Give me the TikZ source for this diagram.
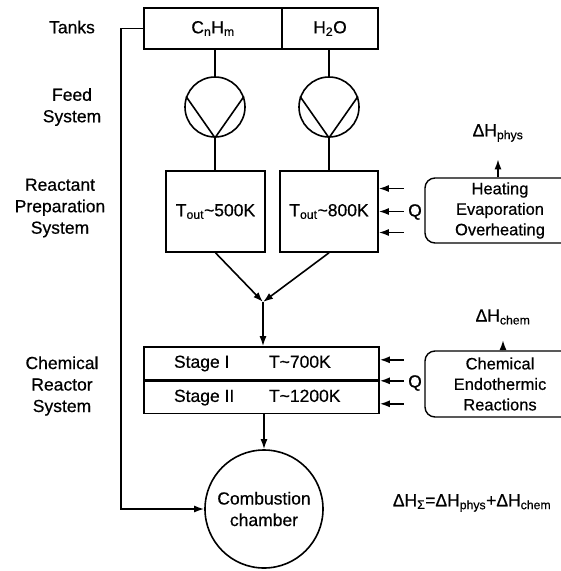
\documentclass[tikz,border=0pt]{standalone}
\usepackage{fontspec}
\setmainfont{Liberation Sans}[FakeBold=0.5]
\usetikzlibrary{arrows.meta,calc}
\newcommand{\labelsize}{\fontsize{17.5}{21.5}\selectfont}
\newcommand{\procsize}{\fontsize{16.5}{20.5}\selectfont}

\begin{document}
\begin{tikzpicture}[x=1pt,y=-1pt,
  every node/.style={font=\labelsize},
  lbl/.style={align=center},
  box/.style={draw,line width=1.6pt,inner sep=0pt,align=center},
  pump/.style={draw,circle,line width=1.6pt,minimum size=60pt,inner sep=0pt},
  proc/.style={draw,line width=1.4pt,rounded corners=10pt,minimum width=150pt,align=center,
    inner sep=0pt,font=\procsize},
  ln/.style={line width=1.6pt},
  arr/.style={-{Latex[length=10pt,width=7pt]},line width=1.6pt}]
\useasboundingbox (0,0) rectangle (561,571);
\node[lbl] (tanks) at (72,27) {Tanks};
\node[lbl] (feed) at (72,107) {Feed\\System};
\node[lbl] (prep) at (60,208) {Reactant\\Preparation\\System};
\node[lbl] (reac) at (62,386) {Chemical\\Reactor\\System};
\node[box,minimum width=138pt,minimum height=41pt] (cnhm) at (213,28.5) {C\textsubscript{n}H\textsubscript{m}};
\node[box,minimum width=96pt,minimum height=41pt] (water) at (330,28.5) {H\textsubscript{2}O};
\node[pump] (pumpA) at (215,107) {};
\node[pump] (pumpB) at (329,107) {};
\draw[ln] (pumpA.160) -- (pumpA.south) -- (pumpA.20);
\draw[ln] (pumpB.160) -- (pumpB.south) -- (pumpB.20);
\node[box,minimum width=99pt,minimum height=81pt] (prepA) at (215.5,211.5) {T\textsubscript{out}\textasciitilde500K};
\node[box,minimum width=98pt,minimum height=81pt] (prepB) at (329,211.5) {T\textsubscript{out}\textasciitilde800K};
\coordinate (merge) at (263,302);
\node[box,minimum width=235pt,minimum height=33pt] (stageA) at (261.5,363.5)
  {\makebox[95pt][l]{Stage I}\makebox[80pt][l]{T\textasciitilde700K}};
\node[box,minimum width=235pt,minimum height=32pt,anchor=north] (stageB) at (stageA.south)
  {\makebox[95pt][l]{Stage II}\makebox[80pt][l]{T\textasciitilde1200K}};
\node[box,circle,minimum size=118pt] (comb) at (264,509) {Combustion\\chamber};
\node[proc,minimum height=65pt] (heat) at (500,210.5) {Heating\\Evaporation\\Overheating};
\node[proc,minimum height=66pt] (chem) at (500,384) {Chemical\\Endothermic\\Reactions};
\node (dhphys) at (498,133) {ΔH\textsubscript{phys}};
\node (dhchem) at (503,317) {ΔH\textsubscript{chem}};
\node (qA) at (415,212) {Q};
\node (qB) at (415,383) {Q};
\node (dhsum) at (472,503) {ΔH\textsubscript{Σ}=ΔH\textsubscript{phys}+ΔH\textsubscript{chem}};
\draw[ln] (pumpA.north) -- (pumpA.north |- cnhm.south);
\draw[ln] (pumpB.north) -- (pumpB.north |- water.south);
\draw[ln] (pumpA.south) -- (prepA.north -| pumpA.south);
\draw[ln] (pumpB.south) -- (prepB.north -| pumpB.south);
\draw[arr] (prepA.south) -- (merge);
\draw[arr] (prepB.south) -- (merge);
\draw[arr] (merge) -- (merge |- stageA.north);
\draw[arr] (comb.north |- stageB.south) -- (comb.north);
\draw[arr] (cnhm.west) -- ++(-22,0) |- (comb.west);
\foreach \dy in {-23,0,21}
  \draw[arr] ([shift={(25,\dy)}]prepB.east) -- ([shift={(0,\dy)}]prepB.east);
\foreach \dy in {-21,0,23}
  \draw[arr] ([shift={(24,\dy)}]stageA.south east) -- ([shift={(0,\dy)}]stageA.south east);
\draw[arr,shorten >=14pt] (heat.north -| dhphys.south) -- (dhphys.south);
\draw[arr,shorten >=12pt] (chem.north -| dhchem.south) -- (dhchem.south);
\end{tikzpicture}
\end{document}
